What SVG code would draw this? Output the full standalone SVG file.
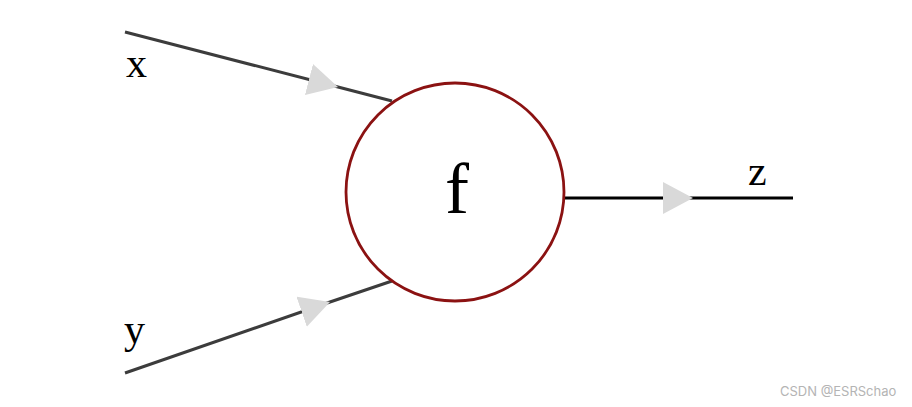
<svg xmlns="http://www.w3.org/2000/svg" width="912" height="407" viewBox="0 0 912 407">
<style>
.lbl{font-family:"Liberation Serif","DejaVu Serif",serif;fill:#000;}
.in{fill:none;stroke:#3c3c3c;stroke-width:3;marker-mid:url(#ah);}
.out{fill:none;stroke:#000;stroke-width:3;marker-mid:url(#ah);}
.node{fill:#fff;stroke:#8b1212;stroke-width:2.8;}
.wm{font-family:"Inter","Liberation Sans",sans-serif;font-size:13px;fill:#b4b4b4;}
</style>
<defs>
<marker id="ah" viewBox="0 0 30 32" refX="30" refY="16" markerWidth="30" markerHeight="32" markerUnits="userSpaceOnUse" orient="auto">
<path d="M0,0 L30,16 L0,32 z" fill="#d9d9d9"/>
</marker>
</defs>
<rect width="912" height="407" fill="#fff"/>
<g id="connectors">
<path class="in" d="M125,32 L338,87 L392,101"/>
<path class="in" d="M125,373 L330,302 L392,281"/>
<path class="out" d="M564,198 L693,198 L793,198"/>
</g>
<g id="node-f">
<circle class="node" cx="455" cy="192" r="109"/>
<text class="lbl" x="457" y="213" font-size="72" text-anchor="middle">f</text>
</g>
<g id="label-x"><text class="lbl" x="126" y="77" font-size="42">x</text></g>
<g id="label-y"><text class="lbl" x="124" y="343" font-size="42">y</text></g>
<g id="label-z"><text class="lbl" x="748" y="185" font-size="42">z</text></g>
<text class="wm" x="780" y="396">CSDN @ESRSchao</text>
</svg>
